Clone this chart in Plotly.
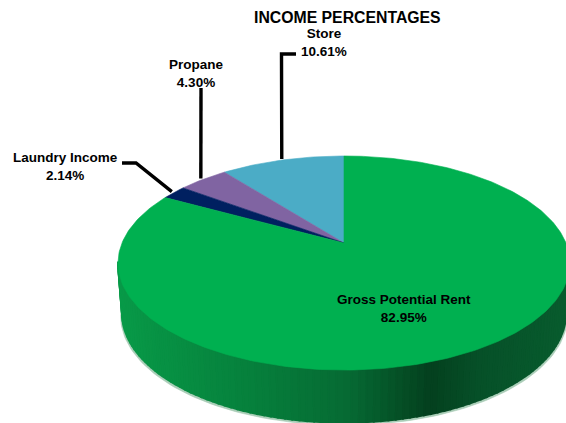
import numpy as np
import plotly.graph_objects as go

# Income shares, listed anticlockwise from twelve o'clock
categories = ["Store", "Propane", "Laundry Income", "Gross Potential Rent"]
shares = [10.61, 4.30, 2.14, 82.95]
slice_colors = ["#4BACC6", "#8064A2", "#002060", "#00B050"]
chart_title = "INCOME PERCENTAGES"

# Where each label sits and how far its leader line runs
label_x = [323.5, 196, 65, 403.5]
label_y = [42.5, 73.5, 166, 308]
leader_elbows = [[(281.5, 54), (296, 54)], [(201, 88)], [(136, 163), (122, 163)], []]
leader_nudge = [-0.5, -2, -2, 0]

# Side wall shading, left to right across the page
wall_stop_x = [118, 250, 350, 432, 480, 570]
wall_stop_r = [8, 6, 6, 4, 6, 8]
wall_stop_g = [154, 128, 106, 64, 80, 92]
wall_stop_b = [72, 60, 51, 30, 40, 46]

WIDTH, HEIGHT = 566, 423
CX, CY = 344, 243
RX, RY, TILT = 222.0, 103.3, 0.187
LOWER_CY, LOWER_RX, LOWER_RY = 293.0, 218.0, 105.4


def rim(theta, cy=CY, rx=RX, ry=RY):
    """Project a pie angle (radians, anticlockwise from the top) onto the page."""
    depth = 1 + TILT * np.cos(theta)
    return CX - rx * np.sin(theta) / depth, cy - ry * np.cos(theta) / depth


def poly(x, y, color, edge=0.6):
    return go.Scatter(
        x=x, y=y, mode="lines", fill="toself", fillcolor=color,
        line=dict(color=color, width=edge), hoverinfo="skip", showlegend=False,
    )


fig = go.Figure()

edges = np.radians(np.concatenate([[0], np.cumsum(shares)]) * 3.6)
visible = np.radians(np.arange(100, 262, 1.6))

# Pale fringe beneath the lower rim
lx, ly = rim(visible, LOWER_CY, LOWER_RX, LOWER_RY)
ux, uy = rim(visible[::-1], LOWER_CY - 6, LOWER_RX, LOWER_RY)
fig.add_trace(poly(
    np.concatenate([lx + np.sign(lx - CX) * 1.5, ux]),
    np.concatenate([ly + 2.5, uy]),
    "#A9CDB7",
))

# Side wall, one narrow band at a time so the shade can follow x
for a, b in zip(visible[:-1], visible[1:]):
    tx0, ty0 = rim(a)
    tx1, ty1 = rim(b)
    bx0, by0 = rim(a, LOWER_CY, LOWER_RX, LOWER_RY)
    bx1, by1 = rim(b, LOWER_CY, LOWER_RX, LOWER_RY)
    mid = (tx0 + tx1) / 2
    shade = "rgb({:.0f},{:.0f},{:.0f})".format(
        np.interp(mid, wall_stop_x, wall_stop_r),
        np.interp(mid, wall_stop_x, wall_stop_g),
        np.interp(mid, wall_stop_x, wall_stop_b),
    )
    fig.add_trace(poly([tx0, tx1, bx1, bx0, tx0], [ty0, ty1, by1, by0, ty0], shade, edge=2))

# Top face of the pie
for start, end, color in zip(edges[:-1], edges[1:], slice_colors):
    theta = np.linspace(start, end, max(int(np.degrees(end - start)), 4))
    x, y = rim(theta)
    fig.add_trace(poly(np.r_[CX, x, CX], np.r_[CY, y, CY], color))

# Leader lines start on the rim at the middle of their slice
for start, end, elbow, nudge in zip(edges[:-1], edges[1:], leader_elbows, leader_nudge):
    if not elbow:
        continue
    sx, sy = rim((start + end) / 2)
    fig.add_trace(go.Scatter(
        x=[sx + nudge] + [p[0] for p in elbow], y=[sy - 1] + [p[1] for p in elbow],
        mode="lines", line=dict(color="black", width=3.4),
        hoverinfo="skip", showlegend=False,
    ))

annotations = [
    dict(x=lx_, y=ly_, xref="x", yref="y", showarrow=False,
         text=f"<b>{name}<br>{value:.2f}%</b>",
         font=dict(family="Liberation Sans", size=13.5, color="black"))
    for name, value, lx_, ly_ in zip(categories, shares, label_x, label_y)
]
annotations.append(dict(
    x=347.5, y=17, xref="x", yref="y", showarrow=False,
    text=f"<b>{chart_title}</b>",
    font=dict(family="Liberation Sans", size=15.8, color="black"),
))

fig.update_layout(
    width=WIDTH, height=HEIGHT, margin=dict(l=0, r=0, t=0, b=0),
    paper_bgcolor="white", plot_bgcolor="white",
    xaxis=dict(range=[0, WIDTH], visible=False, fixedrange=True),
    yaxis=dict(range=[HEIGHT, 0], visible=False, fixedrange=True),
    annotations=annotations,
)
fig.write_html("out.html", config={"displayModeBar": False})
